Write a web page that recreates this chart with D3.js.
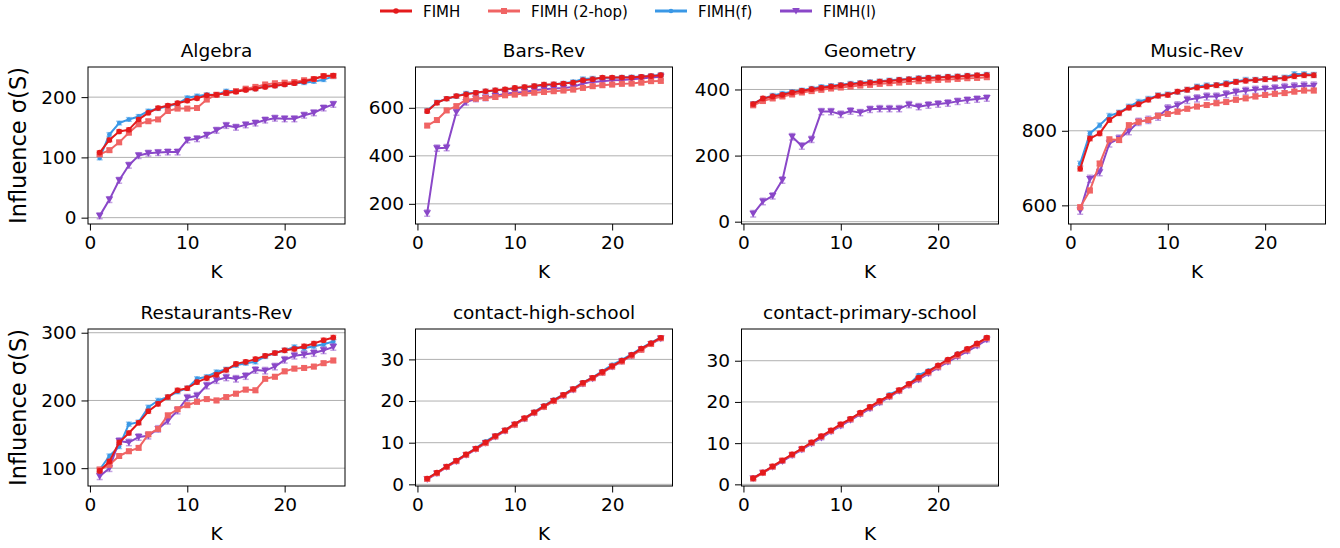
<!DOCTYPE html>
<html>
<head>
<meta charset="utf-8">
<title>Influence vs K</title>
<script src="https://cdn.jsdelivr.net/npm/d3@7"></script>
<style>
    body{ margin: 0; background: #fff; }
    svg{ font-family: "DejaVu Sans", sans-serif; }
    .tick text{ fill: #000; }
    .tick line{ stroke: #000; }
</style>
</head>
<body>
<svg width="1340" height="548"></svg>
<script>
// K = seed set size
const K = d3.range(1, 26)
const seriesNames = ["FIMH", "FIMH (2-hop)", "FIMH(f)", "FIMH(l)"]

// Algebra
const algebraFimh = [108,129,143,146,163,174,182,186,190,194,198,203,204,207,209,212,214,217,219,221,223,226,230,235,236]
const algebra2hop = [105,112,125,141,155,160,163,177,181,181,182,196,204,207,210,214,217,221,223,224,225,228,230,235,235]
const algebraF    = [99,138,157,163,168,177,181,185,189,199,202,204,204,210,210,213,214,218,219,221,223,224,226,229,234]
const algebraL    = [3,30,62,87,103,107,108,109,109,129,131,137,145,153,150,154,157,162,165,164,164,170,174,182,188]

// Bars-Rev
const barsFimh = [586,621,638,649,656,663,669,673,677,683,687,691,697,698,701,705,715,719,726,726,726,726,729,732,736]
const bars2hop = [526,549,589,607,634,638,641,645,652,655,660,663,666,669,672,676,683,690,694,697,700,701,705,711,712]
const barsF    = [588,623,638,648,660,663,668,672,676,681,685,690,694,697,702,708,720,722,724,725,727,728,730,733,738]
const barsL    = [161,432,434,582,624,638,642,649,659,663,666,673,677,680,683,687,701,708,711,715,716,719,722,726,729]

// Geometry
const geomFimh = [356,373,379,384,391,396,401,405,409,413,416,419,421,424,426,429,431,433,435,436,438,439,441,443,444]
const geom2hop = [352,365,373,379,385,391,395,399,403,406,409,412,414,417,419,421,423,425,427,429,430,432,434,435,437]
const geomF    = [357,372,382,388,393,398,403,408,411,414,418,420,423,425,428,430,432,435,436,437,439,440,442,443,445]
const geomL    = [24,61,78,126,257,229,249,333,333,325,335,330,340,342,342,342,354,348,353,356,359,364,368,371,374]

// Music-Rev
const musicFimh = [698,779,793,829,847,862,871,883,894,896,905,910,916,919,922,925,931,934,936,938,940,941,946,949,949]
const music2hop = [595,640,712,777,775,815,824,829,840,845,851,859,865,869,874,877,883,887,892,896,899,901,905,908,908]
const musicF    = [712,793,815,840,849,865,878,886,895,898,904,910,919,922,923,928,932,937,937,939,940,943,952,952,950]
const musicL    = [586,671,689,766,779,799,824,829,838,860,868,883,887,892,892,898,904,907,910,912,914,917,919,921,921]

// Restaurants-Rev
const restFimh = [96,110,138,152,167,184,195,205,215,218,227,233,238,245,254,257,261,266,270,274,276,280,284,289,293]
const rest2hop = [98,105,118,125,130,150,158,178,187,193,198,202,200,205,210,216,215,232,235,243,247,248,250,255,259]
const restF    = [98,118,132,165,168,190,200,205,213,218,232,235,242,246,252,255,257,265,270,274,279,277,280,283,287]
const restL    = [88,100,140,138,146,148,158,170,185,204,207,222,230,234,232,236,245,244,250,260,266,268,270,274,279]

// contact-high-school
const highFimh = [1.4,2.8,4.3,5.7,7.2,8.6,10.1,11.6,13.0,14.5,15.9,17.3,18.8,20.2,21.5,22.9,24.4,25.6,27.0,28.4,29.7,31.1,32.6,33.9,35.2]
const high2hop = [1.3,2.7,4.2,5.6,7.1,8.5,9.9,11.5,12.9,14.3,15.8,17.2,18.6,20.0,21.4,22.8,24.2,25.5,26.8,28.3,29.5,30.9,32.3,33.7,35.1]
const highF    = [1.4,2.8,4.3,5.8,7.2,8.7,10.3,11.7,13.1,14.5,15.9,17.4,18.9,20.3,21.6,23.0,24.5,25.7,27.2,28.7,29.9,31.3,32.7,34.0,35.3]
const highL    = [1.2,2.6,4.1,5.5,7.0,8.4,9.9,11.4,12.8,14.3,15.7,17.1,18.6,20.0,21.3,22.7,24.1,25.4,26.8,28.2,29.5,30.9,32.4,33.7,35.0]

// contact-primary-school
const primFimh = [1.5,2.9,4.4,5.8,7.3,8.7,10.2,11.7,13.1,14.6,15.9,17.4,18.8,20.3,21.5,22.9,24.4,25.9,27.4,28.9,30.3,31.6,32.9,34.2,35.6]
const prim2hop = [1.4,2.8,4.3,5.8,7.2,8.6,10.1,11.6,13.0,14.5,15.8,17.2,18.7,20.1,21.4,22.8,24.2,25.7,27.2,28.6,30.0,31.3,32.7,34.0,35.5]
const primF    = [1.5,2.9,4.3,5.7,7.2,8.6,10.0,11.5,13.0,14.4,15.9,17.3,18.6,19.8,21.8,22.9,24.3,26.5,27.6,28.8,30.2,31.7,32.8,34.1,35.5]
const primL    = [1.4,2.8,4.2,5.6,7.0,8.4,9.9,11.3,12.8,14.2,15.6,17.0,18.4,19.8,21.2,22.6,24.0,25.4,26.9,28.3,29.7,31.0,32.3,33.6,35.1]

// panel settings: axis limits, ticks and error bar half-size
const panels = [
    {title: "Algebra", series: [algebraFimh, algebra2hop, algebraF, algebraL], yDomain: [-10.5, 250], yTicks: [0,100,200], err: 3},
    {title: "Bars-Rev", series: [barsFimh, bars2hop, barsF, barsL], yDomain: [116, 770], yTicks: [200,400,600], err: 8},
    {title: "Geometry", series: [geomFimh, geom2hop, geomF, geomL], yDomain: [-7, 468], yTicks: [0,200,400], err: 6},
    {title: "Music-Rev", series: [musicFimh, music2hop, musicF, musicL], yDomain: [550, 971], yTicks: [600,800], err: 6},
    {title: "Restaurants-Rev", series: [restFimh, rest2hop, restF, restL], yDomain: [73.7, 305.5], yTicks: [100,200,300], err: 3},
    {title: "contact-high-school", series: [highFimh, high2hop, highF, highL], yDomain: [-0.4, 37.3], yTicks: [0,10,20,30], err: 0.3},
    {title: "contact-primary-school", series: [primFimh, prim2hop, primF, primL], yDomain: [-0.4, 37.7], yTicks: [0,10,20,30], err: 0.3}
]

const colors = ["#e41a1c", "#f06464", "#3a98e6", "#8a47c8"]
const markers = ["dot", "square", "smalldot", "tridown"]
const drawOrder = [2, 3, 1, 0]

const colX = [88, 415.5, 741.5, 1068.5], rowY = [67, 329]
const W = 257, H = 157

const svg = d3.select("svg")

function drawMarker(sel, type, color){
    if(type === "dot" || type === "smalldot"){
        sel.append("circle").attr("r", type === "dot" ? 2.8 : 2.3).attr("fill", color)
    } else if(type === "square"){
        sel.append("rect").attr("x", -3).attr("y", -3).attr("width", 6).attr("height", 6).attr("fill", color)
    } else {
        sel.append("path").attr("d", "M-3.8,-3 L3.8,-3 L0,3.6 Z").attr("fill", color)
    }
}

panels.forEach((p, i) => {
    const row = i < 4 ? 0 : 1, col = i < 4 ? i : i - 4
    const g = svg.append("g").attr("transform", `translate(${colX[col]},${rowY[row]})`)

    const x = d3.scaleLinear().domain([-0.2, 26.2]).range([0, W])
    const y = d3.scaleLinear().domain(p.yDomain).range([H, 0])

    g.append("clipPath").attr("id", "clip" + i)
        .append("rect").attr("width", W).attr("height", H)

    // horizontal grid
    g.selectAll(".grid").data(p.yTicks).enter().append("line")
        .attr("x1", 0).attr("x2", W)
        .attr("y1", d => y(d)).attr("y2", d => y(d))
        .attr("stroke", "#b0b0b0").attr("stroke-width", 1)

    const plot = g.append("g").attr("clip-path", `url(#clip${i})`)
    const line = d3.line().x((d, j) => x(K[j])).y(d => y(d))

    drawOrder.forEach(s => {
        const vals = p.series[s]
        const e = s === 3 ? p.err * 1.6 : p.err
        const sg = plot.append("g")
        // error bars
        const eb = sg.selectAll(".eb").data(vals).enter().append("g")
            .attr("transform", (d, j) => `translate(${x(K[j])},0)`)
        eb.append("line").attr("y1", d => y(d - e)).attr("y2", d => y(d + e))
            .attr("stroke", colors[s]).attr("stroke-opacity", 0.5).attr("stroke-width", 1.5)
        eb.append("line").attr("x1", -3).attr("x2", 3).attr("y1", d => y(d - e)).attr("y2", d => y(d - e))
            .attr("stroke", colors[s]).attr("stroke-opacity", 0.5).attr("stroke-width", 1.5)
        eb.append("line").attr("x1", -3).attr("x2", 3).attr("y1", d => y(d + e)).attr("y2", d => y(d + e))
            .attr("stroke", colors[s]).attr("stroke-opacity", 0.5).attr("stroke-width", 1.5)

        sg.append("path").datum(vals).attr("d", line)
            .attr("fill", "none").attr("stroke", colors[s]).attr("stroke-width", 2)
            .attr("stroke-linejoin", "round")

        sg.selectAll(".mk").data(vals).enter().append("g")
            .attr("transform", (d, j) => `translate(${x(K[j])},${y(d)})`)
            .each(function(){ drawMarker(d3.select(this), markers[s], colors[s]) })
    })

    // axes
    const xa = g.append("g").attr("transform", `translate(0,${H})`)
        .call(d3.axisBottom(x).tickValues([0,10,20]).tickSize(6.5).tickPadding(5))
    const ya = g.append("g")
        .call(d3.axisLeft(y).tickValues(p.yTicks).tickSize(6.5).tickPadding(5))
    xa.select(".domain").remove()
    ya.select(".domain").remove()
    xa.selectAll(".tick text").attr("font-size", 18.5).attr("font-family", "DejaVu Sans")
    ya.selectAll(".tick text").attr("font-size", 18.5).attr("font-family", "DejaVu Sans")

    g.append("rect").attr("width", W).attr("height", H)
        .attr("fill", "none").attr("stroke", "#000").attr("stroke-width", 1)

    g.append("text").attr("x", W / 2).attr("y", -10.5)
        .attr("text-anchor", "middle").attr("font-size", 18.5).text(p.title)
    g.append("text").attr("x", W / 2).attr("y", H + 54)
        .attr("text-anchor", "middle").attr("font-size", 18.5).text("K")

    if(col === 0){
        g.append("text")
            .attr("transform", `translate(${-62},${H / 2}) rotate(-90)`)
            .attr("text-anchor", "middle").attr("font-size", 22.5).text("Influence σ(S)")
    }
})

// legend
const legendX = [380, 488, 655, 780]
const legend = svg.append("g").attr("transform", "translate(0,11)")
seriesNames.forEach((name, s) => {
    const lg = legend.append("g").attr("transform", `translate(${legendX[s]},0)`)
    lg.append("line").attr("x1", 0).attr("x2", 32).attr("stroke", colors[s]).attr("stroke-width", 3)
    drawMarker(lg.append("g").attr("transform", "translate(16,0)"), markers[s], colors[s])
    lg.append("text").attr("x", 43).attr("y", 5.5).attr("font-size", 15).text(name)
})
</script>
</body>
</html>
